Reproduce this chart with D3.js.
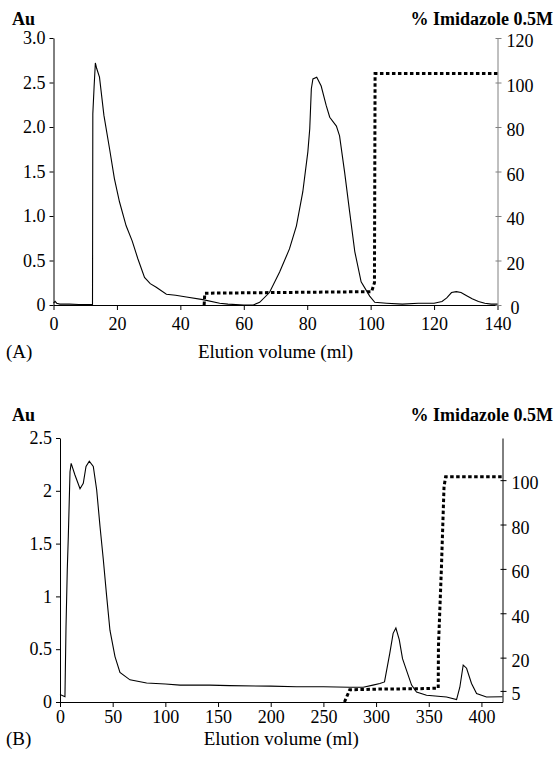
<!DOCTYPE html>
<html>
<head>
<meta charset="utf-8">
<script src="https://cdn.jsdelivr.net/npm/d3@7"></script>
<style>
  body { margin: 0; background: #fff; }
  svg { display: block; }
</style>
</head>
<body>
<div id="chart"></div>
<script>
// ---- panel A: absorbance (Au) vs elution volume (ml)
const volA = [0, 0.5, 1, 2, 5, 8, 12.3, 12.4, 12.8, 13.2, 13.6, 14.5, 15.9, 17.7, 19.2, 20.8, 22.9, 24.8, 26.6, 28.7, 30.5,
  32.4, 35.6, 38.5, 41.9, 47.1, 52.4, 55, 60, 63, 65, 68.1, 71.3, 74.4, 76.6, 78.6, 80.2, 80.8, 81.3, 81.8, 83.0, 84.4,
  86, 87.1, 89.2, 90.2, 91.8, 93.4, 95, 97, 99.7, 101.3, 105, 110, 115, 120, 122.5, 124, 125.5, 127, 128.5, 130, 132,
  134, 136, 138, 140];
const auA = [0.02, 0.04, 0.02, 0.01, 0.01, 0.005, 0.005, 2.15, 2.45, 2.72, 2.66, 2.56, 2.13, 1.75, 1.42, 1.16, 0.89,
  0.72, 0.52, 0.31, 0.24, 0.2, 0.12, 0.11, 0.09, 0.06, 0.02, 0.01, 0.0, 0.0, 0.03, 0.14, 0.37, 0.63, 0.89, 1.27, 1.72,
  1.98, 2.43, 2.54, 2.56, 2.46, 2.24, 2.11, 2.01, 1.9, 1.49, 1.04, 0.6, 0.26, 0.1, 0.03, 0.02, 0.01, 0.02, 0.02, 0.04,
  0.08, 0.14, 0.15, 0.14, 0.11, 0.07, 0.04, 0.02, 0.01, 0.01];
// imidazole gradient (%)
const gradVolA = [47.5, 47.7, 70, 100.3, 101.2, 101.4, 140];
const gradPctA = [0, 5.3, 5.6, 6.0, 10, 104, 104];
const xTicksA = [0, 20, 40, 60, 80, 100, 120, 140];
const yTicksA = [0, 0.5, 1, 1.5, 2, 2.5, 3];
const y2TicksA = [0, 20, 40, 60, 80, 100, 120];

// ---- panel B
const volB = [0, 1.6, 4.7, 5.7, 6.9, 7.9, 9.5, 10.6, 14.2, 19, 22.1, 24.7, 27.8, 31.6, 34.8, 38, 41.1, 44.3, 47.4, 52.2,
  56.9, 66.4, 82.2, 100, 113.9, 142, 161, 200, 224.5, 250, 275, 287.8, 297, 303.6, 308, 313, 316.2, 318.8, 322, 325.1,
  328.9, 333.7, 338.4, 347.9, 366.9, 376.4, 379.5, 382.7, 385.9, 390.6, 395.4, 404.8, 420];
const auB = [0.07, 0.064, 0.05, 0.71, 1.25, 1.57, 2.18, 2.26, 2.15, 2.02, 2.07, 2.23, 2.28, 2.23, 2.01, 1.66, 1.35, 1.0,
  0.68, 0.43, 0.28, 0.21, 0.18, 0.17, 0.16, 0.16, 0.155, 0.15, 0.145, 0.145, 0.14, 0.14, 0.16, 0.175, 0.19, 0.46, 0.65,
  0.70, 0.59, 0.41, 0.30, 0.16, 0.095, 0.064, 0.048, 0.023, 0.14, 0.35, 0.32, 0.175, 0.08, 0.048, 0.05];
const gradVolB = [270, 275, 300, 340, 359, 359.2, 362, 364.5, 366, 420];
const gradPctB = [0, 5.5, 5.8, 6.0, 6.2, 25, 60, 97, 101.5, 101.5];
const xTicksB = [0, 50, 100, 150, 200, 250, 300, 350, 400];
const yTicksB = [0, 0.5, 1, 1.5, 2, 2.5];
const y2TicksB = [5, 20, 40, 60, 80, 100];

const FONT = '"Liberation Serif", "Times New Roman", serif';
const width = 556, height = 763;
const svg = d3.select('#chart').append('svg')
  .attr('width', width)
  .attr('height', height)
  .style('font-family', FONT);

function styleAxis(sel) {
  sel.attr('font-size', 18).style('font-family', FONT);
  sel.selectAll('text').attr('fill', '#000').style('font-family', FONT);
}

function drawPanel(p) {
  const x = d3.scaleLinear().domain(p.xDomain).range([p.left, p.right]);
  const y = d3.scaleLinear().domain(p.yDomain).range([p.bottom, p.top]);
  const y2 = d3.scaleLinear().domain(p.y2Domain).range([p.bottom, p.top]);
  const g = svg.append('g');

  // axes
  g.append('g')
    .attr('transform', `translate(0, ${p.bottom})`)
    .call(d3.axisBottom(x).tickValues(p.xTicks).tickSize(5).tickSizeOuter(0).tickPadding(p.xPad))
    .call(styleAxis);
  const yAxisG = g.append('g')
    .attr('transform', `translate(${p.left}, 0)`)
    .call(d3.axisLeft(y).tickValues(p.yTicks).tickFormat(p.yFormat).tickSize(5).tickSizeOuter(0).tickPadding(3))
    .call(styleAxis);
  yAxisG.selectAll('.tick line').attr('x2', -4);
  const y2AxisG = g.append('g')
    .attr('transform', `translate(${p.right}, 0)`)
    .call(d3.axisRight(y2).tickValues(p.y2Ticks).tickSize(4).tickSizeOuter(0).tickPadding(5))
    .call(styleAxis);
  y2AxisG.select('.domain').attr('stroke', p.rightColor);
  y2AxisG.selectAll('.tick line').attr('stroke', p.rightColor).attr('x1', -2);
  // the secondary labels sit a little below their ticks
  y2AxisG.selectAll('.tick text').attr('y', 3)
    .filter(d => d === 0).attr('x', 13);

  // absorbance trace
  const trace = p.vol.map((v, i) => [v, p.au[i]]);
  g.append('path')
    .datum(trace)
    .attr('fill', 'none')
    .attr('stroke', '#000')
    .attr('stroke-width', 1.1)
    .attr('d', d3.line().x(d => x(d[0])).y(d => y(d[1])));

  // imidazole gradient, dotted
  const grad = p.gradVol.map((v, i) => [v, p.gradPct[i]]);
  g.append('path')
    .datum(grad)
    .attr('fill', 'none')
    .attr('stroke', '#000')
    .attr('stroke-width', 3)
    .attr('stroke-dasharray', '3.5,2.5')
    .attr('d', d3.line().x(d => x(d[0])).y(d => y2(d[1])));

  // labels
  g.append('text').attr('x', 12).attr('y', p.headY)
    .attr('font-size', 18).attr('font-weight', 'bold').text('Au');
  g.append('text').attr('x', 553).attr('y', p.headY)
    .attr('font-size', 18).attr('font-weight', 'bold')
    .attr('text-anchor', 'end').text('% Imidazole 0.5M');
  g.append('text').attr('x', (p.left + p.right) / 2).attr('y', p.titleY)
    .attr('font-size', 19).attr('text-anchor', 'middle').text('Elution volume (ml)');
  g.append('text').attr('x', 6).attr('y', p.titleY)
    .attr('font-size', 19).text(p.tag);
}

drawPanel({
  left: 53.5, right: 497.5, top: 38, bottom: 305,
  xDomain: [0, 140], yDomain: [0, 3], y2Domain: [0, 120],
  xTicks: xTicksA, yTicks: yTicksA, y2Ticks: y2TicksA, xPad: 7,
  yFormat: d => d === 0 ? '0' : d3.format('.1f')(d),
  vol: volA, au: auA, gradVol: gradVolA, gradPct: gradPctA,
  rightColor: '#808080', tag: '(A)', headY: 25, titleY: 358
});

drawPanel({
  left: 60, right: 502.5, top: 438, bottom: 702,
  xDomain: [0, 420], yDomain: [0, 2.5], y2Domain: [0, 119],
  xTicks: xTicksB, yTicks: yTicksB, y2Ticks: y2TicksB, xPad: 3,
  yFormat: d3.format(''),
  vol: volB, au: auB, gradVol: gradVolB, gradPct: gradPctB,
  rightColor: '#000', tag: '(B)', headY: 421, titleY: 745
});
</script>
</body>
</html>
